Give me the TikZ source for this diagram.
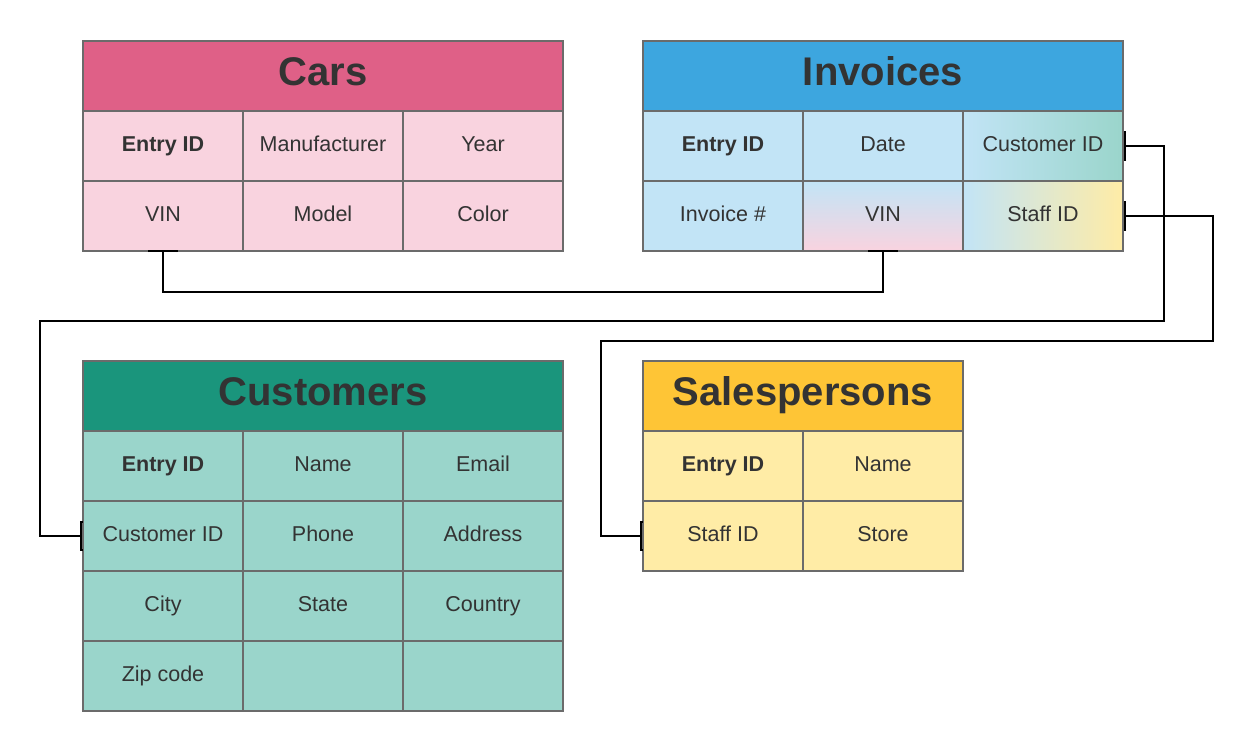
\documentclass[tikz,border=0pt]{standalone}
\usepackage{fontspec}
\setmainfont{Liberation Sans}
\usetikzlibrary{arrows.meta}
\definecolor{carshead}{HTML}{DF6087}
\definecolor{carscell}{HTML}{F9D3DF}
\definecolor{invhead}{HTML}{3DA6DF}
\definecolor{invcell}{HTML}{C2E4F6}
\definecolor{cushead}{HTML}{1A957C}
\definecolor{cuscell}{HTML}{9AD5CB}
\definecolor{salhead}{HTML}{FEC536}
\definecolor{salcell}{HTML}{FFECA6}
\definecolor{bordergray}{HTML}{6B6B6B}
\definecolor{txt}{HTML}{333333}
\newcommand\mkcell[5]{\node[cell,#4] (#1) at (#2,#3) {#5};}
\begin{document}
\begin{tikzpicture}[x=1pt,y=-1pt,
  cell/.style={draw=bordergray, line width=2pt, minimum width=160pt, minimum height=70pt,
    inner sep=0pt, anchor=north west, text=txt, text height=15.5pt, text depth=4.5pt,
    font=\fontsize{21.5}{24}\selectfont},
  head/.style={cell, minimum width=480pt, text height=29pt, text depth=11pt,
    font=\bfseries\fontsize{40}{44}\selectfont},
  shead/.style={head, minimum width=320pt},
  link/.style={draw=black, line width=2pt},
  tick/.style={{Bar[width=30pt,length=2.5pt]}-{Bar[width=30pt,length=2.5pt]}}
]
\useasboundingbox (0,0) rectangle (1252,750);
% Cars
\node[head, fill=carshead] (carsH) at (82,40) {Cars};
\mkcell{carsA}{82}{110}{fill=carscell}{\textbf{Entry ID}}
\mkcell{carsB}{242}{110}{fill=carscell}{Manufacturer}
\mkcell{carsC}{402}{110}{fill=carscell}{Year}
\mkcell{carsVIN}{82}{180}{fill=carscell}{VIN}
\mkcell{carsE}{242}{180}{fill=carscell}{Model}
\mkcell{carsF}{402}{180}{fill=carscell}{Color}
% Invoices
\node[head, fill=invhead] (invH) at (642,40) {Invoices};
\mkcell{invA}{642}{110}{fill=invcell}{\textbf{Entry ID}}
\mkcell{invB}{802}{110}{fill=invcell}{Date}
\mkcell{invCust}{962}{110}{left color=invcell, right color=cuscell}{Customer ID}
\mkcell{invD}{642}{180}{fill=invcell}{Invoice \#}
\mkcell{invVIN}{802}{180}{top color=invcell, bottom color=carscell}{VIN}
\mkcell{invStaff}{962}{180}{left color=invcell, right color=salcell}{Staff ID}
% Customers
\node[head, fill=cushead] (cusH) at (82,360) {Customers};
\mkcell{cusA}{82}{430}{fill=cuscell}{\textbf{Entry ID}}
\mkcell{cusB}{242}{430}{fill=cuscell}{Name}
\mkcell{cusC}{402}{430}{fill=cuscell}{Email}
\mkcell{cusCust}{82}{500}{fill=cuscell}{Customer ID}
\mkcell{cusE}{242}{500}{fill=cuscell}{Phone}
\mkcell{cusF}{402}{500}{fill=cuscell}{Address}
\mkcell{cusG}{82}{570}{fill=cuscell}{City}
\mkcell{cusH2}{242}{570}{fill=cuscell}{State}
\mkcell{cusI}{402}{570}{fill=cuscell}{Country}
\mkcell{cusJ}{82}{640}{fill=cuscell}{Zip code}
\mkcell{cusK}{242}{640}{fill=cuscell}{}
\mkcell{cusL}{402}{640}{fill=cuscell}{}
% Salespersons
\node[shead, fill=salhead] (salH) at (642,360) {Salespersons};
\mkcell{salA}{642}{430}{fill=salcell}{\textbf{Entry ID}}
\mkcell{salB}{802}{430}{fill=salcell}{Name}
\mkcell{salStaff}{642}{500}{fill=salcell}{Staff ID}
\mkcell{salD}{802}{500}{fill=salcell}{Store}
% connectors
\draw[link, tick, shorten <=-1.5pt, shorten >=-1.5pt] ([yshift=1pt]carsVIN.south) -- ++(0,41) -| ([yshift=1pt]invVIN.south);
\draw[link, tick, shorten <=-1.5pt, shorten >=-1.5pt] ([xshift=1pt]invCust.east) -| ++(39,175) -| ([xshift=-42pt]cusCust.west) -- ([xshift=-1pt]cusCust.west);
\draw[link, tick, shorten <=-1.5pt, shorten >=-1.5pt] ([xshift=1pt]invStaff.east) -| ++(88,125) -| ([xshift=-41pt]salStaff.west) -- ([xshift=-1pt]salStaff.west);
\end{tikzpicture}
\end{document}
